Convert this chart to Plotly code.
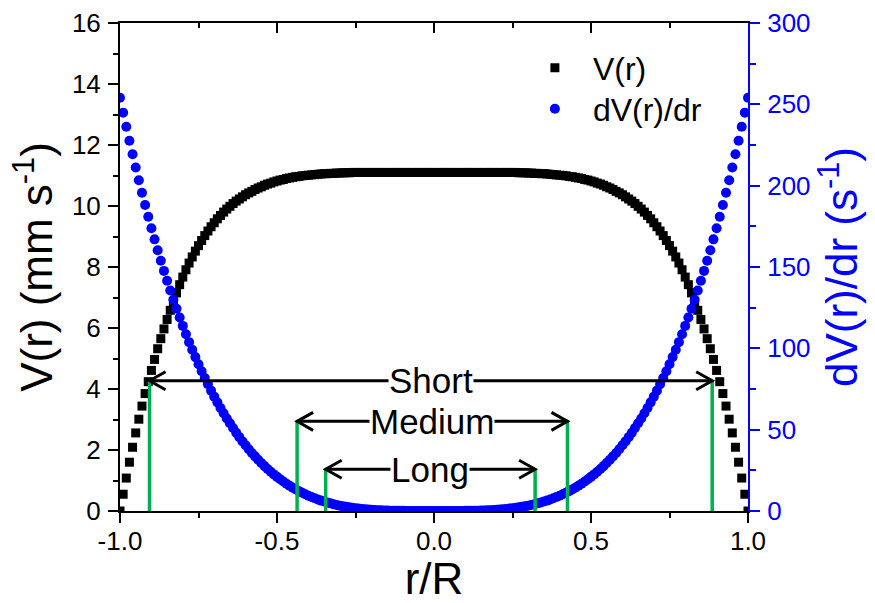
import numpy as np
import plotly.graph_objects as go

# Normalised radial position r/R, sampled every 0.01 across the channel
r_over_R = np.round(np.linspace(-1.0, 1.0, 201), 2)

# Velocity profile V(r) in mm/s
velocity = [
    0.00, 0.55, 1.08, 1.60, 2.09, 2.56, 3.01, 3.44, 3.85, 4.24,
    4.61, 4.97, 5.32, 5.65, 5.97, 6.28, 6.58, 6.87, 7.15, 7.42,
    7.67, 7.91, 8.13, 8.33, 8.52, 8.70, 8.87, 9.03, 9.18, 9.32,
    9.45, 9.58, 9.69, 9.80, 9.90, 9.99, 10.08, 10.16, 10.23, 10.30,
    10.37, 10.43, 10.48, 10.54, 10.59, 10.63, 10.68, 10.72, 10.75, 10.79,
    10.82, 10.85, 10.87, 10.90, 10.92, 10.94, 10.96, 10.97, 10.99, 11.00,
    11.01, 11.02, 11.03, 11.04, 11.05, 11.06, 11.06, 11.07, 11.07, 11.08,
    11.08, 11.09, 11.09, 11.09, 11.10, 11.10, 11.10, 11.10, 11.10, 11.10,
    11.10, 11.10, 11.10, 11.10, 11.10, 11.10, 11.10, 11.10, 11.10, 11.10,
    11.10, 11.10, 11.10, 11.10, 11.10, 11.10, 11.10, 11.10, 11.10, 11.10,
    11.10,
    11.10, 11.10, 11.10, 11.10, 11.10, 11.10, 11.10, 11.10, 11.10, 11.10,
    11.10, 11.10, 11.10, 11.10, 11.10, 11.10, 11.10, 11.10, 11.10, 11.10,
    11.10, 11.10, 11.10, 11.10, 11.10, 11.10, 11.09, 11.09, 11.09, 11.08,
    11.08, 11.07, 11.07, 11.06, 11.06, 11.05, 11.04, 11.03, 11.02, 11.01,
    11.00, 10.99, 10.97, 10.96, 10.94, 10.92, 10.90, 10.87, 10.85, 10.82,
    10.79, 10.75, 10.72, 10.68, 10.63, 10.59, 10.54, 10.48, 10.43, 10.37,
    10.30, 10.23, 10.16, 10.08, 9.99, 9.90, 9.80, 9.69, 9.58, 9.45,
    9.32, 9.18, 9.03, 8.87, 8.70, 8.52, 8.33, 8.13, 7.91, 7.67,
    7.42, 7.15, 6.87, 6.58, 6.28, 5.97, 5.65, 5.32, 4.97, 4.61,
    4.24, 3.85, 3.44, 3.01, 2.56, 2.09, 1.60, 1.08, 0.55, 0.00,
]

# Shear rate |dV(r)/dr| in 1/s
shear_rate = [
    254.0, 244.9, 236.2, 227.6, 219.3, 211.2, 203.3, 195.6, 188.1, 180.9,
    173.8, 167.0, 160.3, 153.8, 147.6, 141.5, 135.6, 129.9, 124.3, 119.0,
    113.8, 108.7, 103.8, 99.1, 94.6, 90.2, 85.9, 81.8, 77.9, 74.0,
    70.3, 66.8, 63.3, 60.1, 56.9, 53.9, 51.0, 48.1, 45.4, 42.8,
    40.4, 38.0, 35.7, 33.6, 31.5, 29.5, 27.6, 25.8, 24.1, 22.5,
    21.0, 19.5, 18.1, 16.8, 15.5, 14.3, 13.2, 12.2, 11.2, 10.3,
    9.4, 8.6, 7.8, 7.1, 6.4, 5.8, 5.2, 4.7, 4.2, 3.7,
    3.3, 2.9, 2.6, 2.3, 2.0, 1.7, 1.5, 1.3, 1.1, 0.9,
    0.8, 0.6, 0.5, 0.4, 0.3, 0.3, 0.2, 0.2, 0.1, 0.1,
    0.1, 0.0, 0.0, 0.0, 0.0, 0.0, 0.0, 0.0, 0.0, 0.0,
    0.0,
    0.0, 0.0, 0.0, 0.0, 0.0, 0.0, 0.0, 0.0, 0.0, 0.1,
    0.1, 0.1, 0.2, 0.2, 0.3, 0.3, 0.4, 0.5, 0.6, 0.8,
    0.9, 1.1, 1.3, 1.5, 1.7, 2.0, 2.3, 2.6, 2.9, 3.3,
    3.7, 4.2, 4.7, 5.2, 5.8, 6.4, 7.1, 7.8, 8.6, 9.4,
    10.3, 11.2, 12.2, 13.2, 14.3, 15.5, 16.8, 18.1, 19.5, 21.0,
    22.5, 24.1, 25.8, 27.6, 29.5, 31.5, 33.6, 35.7, 38.0, 40.4,
    42.8, 45.4, 48.1, 51.0, 53.9, 56.9, 60.1, 63.3, 66.8, 70.3,
    74.0, 77.9, 81.8, 85.9, 90.2, 94.6, 99.1, 103.8, 108.7, 113.8,
    119.0, 124.3, 129.9, 135.6, 141.5, 147.6, 153.8, 160.3, 167.0, 173.8,
    180.9, 188.1, 195.6, 203.3, 211.2, 219.3, 227.6, 236.2, 244.9, 254.0,
]

# Sampling zones: left edge, right edge (r/R) and marker height (mm/s)
zone_names = ["Short", "Medium", "Long"]
zone_left = [-0.906, -0.436, -0.345]
zone_right = [0.886, 0.425, 0.322]
zone_height = [4.27, 2.94, 1.37]

x_ticks = [-1.0, -0.5, 0.0, 0.5, 1.0]
x_tick_text = ["-1.0", "-0.5", "0.0", "0.5", "1.0"]
y_ticks = [0, 2, 4, 6, 8, 10, 12, 14, 16]
y2_ticks = [0, 50, 100, 150, 200, 250, 300]

X_RANGE = [-1.0, 1.0]
Y_RANGE = [0, 16]
Y2_RANGE = [0, 300]

W, H = 875, 603
M = dict(l=120, r=127, t=23, b=92)

FONT = "Liberation Sans, Arial, sans-serif"
BLUE = "#0000FF"
GREEN = "#00B050"

fig = go.Figure()

fig.add_trace(go.Scatter(
    x=r_over_R, y=velocity, mode="markers", name="V(r)",
    marker=dict(symbol="square", size=9, color="black", line=dict(width=0)),
    yaxis="y", legend="legend",
))
fig.add_trace(go.Scatter(
    x=r_over_R, y=shear_rate, mode="markers", name="dV(r)/dr",
    marker=dict(symbol="circle", size=10, color=BLUE, line=dict(width=0)),
    yaxis="y2", legend="legend2",
))
# carrier for the mirrored top axis
fig.add_trace(go.Scatter(x=[None], y=[None], xaxis="x2", yaxis="y",
                         showlegend=False, hoverinfo="skip"))

# pixel scale, used for arrowhead size
plot_w = W - M["l"] - M["r"]
plot_h = H - M["t"] - M["b"]
px_x = plot_w / (X_RANGE[1] - X_RANGE[0])
px_y = plot_h / (Y_RANGE[1] - Y_RANGE[0])
head_dx = 16 / px_x
head_dy = 9 / px_y

shapes = []
annotations = []
for name, xl, xr, h in zip(zone_names, zone_left, zone_right, zone_height):
    for xv in (xl, xr):
        shapes.append(dict(type="line", xref="x", yref="y", x0=xv, x1=xv, y0=0, y1=h,
                           line=dict(color=GREEN, width=3.5)))
    shapes.append(dict(type="line", xref="x", yref="y", x0=xl, x1=xr, y0=h, y1=h,
                       line=dict(color="black", width=3)))
    shapes.append(dict(type="path", xref="x", yref="y",
                       path=f"M {xl + head_dx} {h + head_dy} L {xl} {h} L {xl + head_dx} {h - head_dy}",
                       line=dict(color="black", width=3)))
    shapes.append(dict(type="path", xref="x", yref="y",
                       path=f"M {xr - head_dx} {h + head_dy} L {xr} {h} L {xr - head_dx} {h - head_dy}",
                       line=dict(color="black", width=3)))
    annotations.append(dict(x=(xl + xr) / 2, y=h, xref="x", yref="y", text=name,
                            showarrow=False, bgcolor="white", borderpad=0,
                            font=dict(family=FONT, size=35, color="black"),
                            xanchor="center", yanchor="middle"))

legend_style = dict(x=0.632, xanchor="left", yanchor="middle", itemwidth=66,
                    bgcolor="rgba(0,0,0,0)", font=dict(size=32, color="black"))

fig.update_layout(
    width=W, height=H,
    margin=dict(**M, autoexpand=False),
    paper_bgcolor="white", plot_bgcolor="white",
    font=dict(family=FONT, color="black"),
    shapes=shapes, annotations=annotations,
    showlegend=True,
    legend=dict(y=0.908, **legend_style),
    legend2=dict(y=0.824, **legend_style),
    xaxis=dict(
        range=X_RANGE, showline=True, linecolor="black", linewidth=2,
        ticks="outside", ticklen=10, tickwidth=2, tickcolor="black",
        tickmode="array", tickvals=x_ticks, ticktext=x_tick_text,
        tickfont=dict(size=26, color="black"), ticklabelstandoff=-4,
        minor=dict(ticks="outside", ticklen=5, tickwidth=2, tickcolor="black", dtick=0.25, tick0=0),
        showgrid=False, zeroline=False,
        title=dict(text="r/R", font=dict(size=44, color="black"), standoff=6),
    ),
    xaxis2=dict(
        range=X_RANGE, overlaying="x", side="top", anchor="y",
        showline=True, linecolor="black", linewidth=2,
        ticks="inside", ticklen=10, tickwidth=2, tickcolor="black",
        tickmode="array", tickvals=x_ticks, showticklabels=False,
        minor=dict(ticks="inside", ticklen=5, tickwidth=2, tickcolor="black", dtick=0.25, tick0=0),
        showgrid=False, zeroline=False,
    ),
    yaxis=dict(
        range=Y_RANGE, showline=True, linecolor="black", linewidth=2,
        ticks="outside", ticklen=10, tickwidth=2, tickcolor="black",
        tickmode="array", tickvals=y_ticks,
        tickfont=dict(size=26, color="black"), ticklabelstandoff=2,
        minor=dict(ticks="outside", ticklen=5, tickwidth=2, tickcolor="black", dtick=1, tick0=0),
        showgrid=False, zeroline=False,
        title=dict(text="V(r) (mm s<sup>-1</sup>)", font=dict(size=44, color="black"), standoff=5),
    ),
    yaxis2=dict(
        range=Y2_RANGE, overlaying="y", side="right", anchor="x",
        showline=True, linecolor=BLUE, linewidth=2,
        ticks="outside", ticklen=10, tickwidth=2, tickcolor=BLUE,
        tickmode="array", tickvals=y2_ticks,
        tickfont=dict(size=26, color=BLUE), ticklabelstandoff=2,
        minor=dict(ticks="outside", ticklen=6, tickwidth=2, tickcolor=BLUE, dtick=25, tick0=0),
        showgrid=False, zeroline=False,
        title=dict(text="dV(r)/dr (s<sup>-1</sup>)", font=dict(size=44, color=BLUE), standoff=17),
    ),
)

fig.write_html("out.html")
